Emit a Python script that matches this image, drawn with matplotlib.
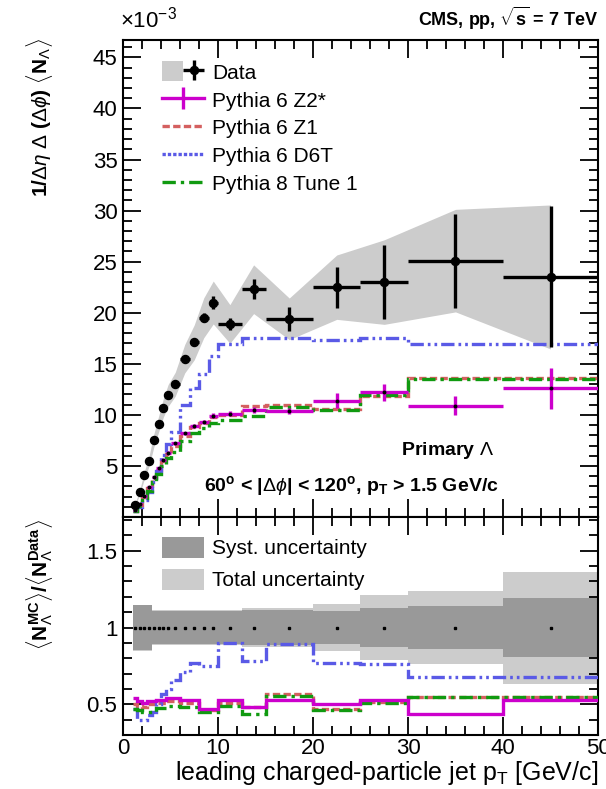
import numpy as np
import matplotlib
matplotlib.use('Agg')
import matplotlib.pyplot as plt
from matplotlib.patches import Patch
from matplotlib.lines import Line2D
from matplotlib.legend_handler import HandlerTuple
from matplotlib.ticker import MultipleLocator, FuncFormatter

FONT = ['Liberation Sans Narrow', 'Liberation Sans', 'DejaVu Sans']
plt.rcParams['font.family'] = FONT
plt.rcParams['mathtext.fontset'] = 'custom'
plt.rcParams['mathtext.rm'] = 'Liberation Sans'
plt.rcParams['mathtext.it'] = 'Liberation Sans:italic'
plt.rcParams['mathtext.bf'] = 'Liberation Sans:bold'

# ---------------- data ----------------
bin_edges = [1, 1.5, 2, 2.5, 3, 3.5, 4, 4.5, 5, 6, 7, 8, 9, 10, 12.5, 15, 20, 25, 30, 40, 50]
data = [1.15, 2.4, 4.1, 5.5, 7.5, 9.1, 10.7, 11.9, 13.0, 15.5, 17.1, 19.5, 21.0,
        18.9, 22.3, 19.4, 22.5, 23.0, 25.1, 23.5]
data_stat = [0.1, 0.1, 0.1, 0.15, 0.15, 0.2, 0.2, 0.25, 0.25, 0.3, 0.35, 0.45, 0.6,
             0.6, 1.0, 1.2, 2.0, 3.6, 4.6, 6.9]
data_band_rel = [0.09, 0.09, 0.09, 0.09, 0.085, 0.085, 0.085, 0.09, 0.09, 0.09, 0.1, 0.1, 0.1,
                 0.1, 0.107, 0.105, 0.14, 0.18, 0.2, 0.3]

z2 = [0.66, 1.25, 2.1, 2.9, 3.95, 4.75, 5.6, 6.3, 7.2, 8.2, 8.95, 9.3, 9.9,
      10.1, 10.5, 10.4, 11.4, 12.2, 10.9, 12.6]
z2_err = [0.05, 0.05, 0.07, 0.08, 0.1, 0.1, 0.12, 0.12, 0.15, 0.15, 0.2, 0.2, 0.25,
          0.25, 0.3, 0.3, 0.7, 0.8, 0.9, 2.0]
z1 = [0.6, 1.2, 2.0, 2.8, 3.8, 4.6, 5.45, 6.15, 7.0, 7.9, 8.8, 9.2, 9.8,
      10.0, 10.9, 10.95, 10.55, 11.85, 13.65, 13.65]
p8 = [0.55, 1.1, 1.85, 2.5, 3.4, 4.25, 5.0, 5.75, 6.4, 7.45, 8.2, 8.75, 9.25,
      9.45, 9.85, 10.75, 10.45, 11.95, 13.5, 13.5]
d6t = [0.55, 0.98, 1.64, 2.4, 3.45, 4.55, 6.1, 7.1, 8.3, 11.0, 12.6, 14.0, 15.8,
       16.9, 17.55, 17.55, 17.35, 17.5, 16.9, 16.9]

# ratio panel (MC / data)
r_z2 = [0.54, 0.52, 0.51, 0.52, 0.52, 0.53, 0.53, 0.54, 0.54, 0.525, 0.525, 0.47, 0.47,
        0.525, 0.48, 0.53, 0.505, 0.525, 0.435, 0.53]
r_z1 = [0.50, 0.49, 0.48, 0.50, 0.50, 0.51, 0.51, 0.52, 0.52, 0.51, 0.51, 0.46, 0.46,
        0.51, 0.48, 0.565, 0.47, 0.515, 0.545, 0.545]
r_p8 = [0.47, 0.46, 0.45, 0.45, 0.45, 0.475, 0.475, 0.49, 0.49, 0.48, 0.48, 0.45, 0.45,
        0.49, 0.44, 0.555, 0.465, 0.51, 0.545, 0.545]
r_d6t = [0.47, 0.40, 0.40, 0.43, 0.45, 0.50, 0.57, 0.60, 0.66, 0.71, 0.77, 0.75, 0.75,
         0.90, 0.78, 0.895, 0.77, 0.76, 0.675, 0.675]
syst_rel = [0.145, 0.145, 0.145, 0.145, 0.11, 0.11, 0.11, 0.11, 0.11, 0.11, 0.11, 0.11, 0.11,
            0.11, 0.115, 0.115, 0.11, 0.13, 0.14, 0.195]
tot_rel = [0.15, 0.15, 0.15, 0.15, 0.115, 0.115, 0.115, 0.115, 0.115, 0.115, 0.115, 0.115, 0.115,
           0.115, 0.125, 0.125, 0.155, 0.21, 0.235, 0.365]

# ---------------- styles ----------------
C_Z2 = '#cc00cc'
C_Z1 = '#d46060'
C_D6T = '#5a5ae6'
C_P8 = '#109a10'
LS_Z1 = (0, (2.2, 1.0))
LS_D6T = (0, (4, 1.2, 0.8, 1.2, 0.8, 1.2))
LS_P8 = (0, (4, 1.5, 1, 1.5))
LW = 2.4

edges = np.array(bin_edges)
centers = 0.5 * (edges[1:] + edges[:-1])
halfw = 0.5 * (edges[1:] - edges[:-1])
data_a = np.array(data)

W, H = 606, 789
fig = plt.figure(figsize=(W / 100, H / 100), dpi=100)

def fx(px):
    return px / W

def fy(py):
    return 1 - py / H

L, R = 123, 598
T1, B1, B2 = 40, 517, 735
ax1 = fig.add_axes([fx(L), fy(B1), fx(R) - fx(L), fy(T1) - fy(B1)])
ax2 = fig.add_axes([fx(L), fy(B2), fx(R) - fx(L), fy(B1) - fy(B2)])

# ---------------- top panel ----------------
rel = np.array(data_band_rel)
ax1.fill_between(centers, data_a * (1 - rel), data_a * (1 + rel), color='#cccccc', lw=0, zorder=1)
band_patch = Patch(facecolor='#cccccc', edgecolor='none')

ax1.stairs(z1, edges, baseline=None, color=C_Z1, lw=LW, ls=LS_Z1, zorder=3)
ax1.stairs(d6t, edges, baseline=None, color=C_D6T, lw=LW, ls=LS_D6T, zorder=3)
ax1.stairs(p8, edges, baseline=None, color=C_P8, lw=LW, ls=LS_P8, zorder=3)
eb_z2 = ax1.errorbar(centers, z2, xerr=halfw, yerr=z2_err, fmt='none', ecolor=C_Z2,
                     elinewidth=LW, capsize=0, zorder=4)
ax1.plot(centers, z2, 'o', color='k', ms=1.8, zorder=5)
eb_data = ax1.errorbar(centers, data, xerr=halfw, yerr=data_stat, fmt='o', color='k',
                       ms=5.8, elinewidth=2.4, capsize=0, zorder=6)

ax1.set_xlim(0, 50)
ax1.set_ylim(0, 46.7)
ax1.xaxis.set_major_locator(MultipleLocator(10))
ax1.xaxis.set_minor_locator(MultipleLocator(2))
ax1.yaxis.set_major_locator(MultipleLocator(5))
ax1.yaxis.set_minor_locator(MultipleLocator(1))
ax1.tick_params(labelbottom=False)
ax1.yaxis.set_major_formatter(FuncFormatter(lambda v, p: '' if v == 0 else '%g' % v))

h_data = (band_patch, eb_data)
h_z2 = Line2D([], [], color=C_Z2, lw=LW, marker='|', ms=16, mew=LW)
h_z1 = Line2D([], [], color=C_Z1, lw=LW, ls=LS_Z1)
h_d6t = Line2D([], [], color=C_D6T, lw=LW, ls=(0, (1, 0.6)))
h_p8 = Line2D([], [], color=C_P8, lw=LW, ls=LS_P8)
leg1 = ax1.legend([h_data, h_z2, h_z1, h_d6t, h_p8],
                  ['Data', 'Pythia 6 Z2*', 'Pythia 6 Z1', 'Pythia 6 D6T', 'Pythia 8 Tune 1'],
                  handler_map={tuple: HandlerTuple(ndivide=None, pad=0)},
                  loc='upper left', bbox_to_anchor=(0.083, 0.955), frameon=False,
                  fontsize=15, handlelength=2.0, handleheight=1.1, handletextpad=0.4,
                  labelspacing=0.33, borderpad=0, borderaxespad=0)

ax1.text(0.684, 0.14, r'Primary $\Lambda$', transform=ax1.transAxes, fontsize=14,
         ha='center', va='center', fontweight='bold')
ax1.text(0.48, 0.066, r'60$^{\mathregular{o}}$ < |$\Delta\phi$| < 120$^{\mathregular{o}}$, p$_{\mathregular{T}}$ > 1.5 GeV/c',
         transform=ax1.transAxes, fontsize=14, ha='center', va='center', fontweight='bold')

fig.text(fx(R), fy(18), r'CMS, pp, $\sqrt{\mathregular{s}}$ = 7 TeV', fontsize=13,
         fontweight='bold', ha='right', va='center')
fig.text(fx(L - 3), fy(20), r'$\times$10$^{\mathregular{-3}}$', fontsize=16, ha='left', va='center')

# axis titles (ROOT style: aligned to the axis end)
fig.text(fx(40), fy(T1 - 2),
         r'1/$\Delta\eta$ $\Delta$ ($\Delta\phi$) $\langle$N$_{\Lambda}\rangle$',
         rotation=90, fontsize=15, fontweight='bold', ha='center', va='top')
fig.text(fx(40), fy(B1 + 2),
         r'$\langle$N$_{\Lambda}^{\mathregular{MC}}\rangle$/$\langle$N$_{\Lambda}^{\mathregular{Data}}\rangle$',
         rotation=90, fontsize=15, fontweight='bold', ha='center', va='top')
fig.text(fx(R), fy(787), r'leading charged-particle jet p$_{\mathregular{T}}$ [GeV/c]',
         fontsize=18, ha='right', va='bottom')

# ---------------- ratio panel ----------------
ones = np.ones(len(centers))
tot = np.array(tot_rel)
syst = np.array(syst_rel)
ax2.stairs(1 + tot, edges, baseline=1 - tot, fill=True, color='#cccccc', lw=0, zorder=1)
ax2.stairs(1 + syst, edges, baseline=1 - syst, fill=True, color='#999999', lw=0, zorder=2)
ax2.plot(centers, ones, 's', color='k', ms=1.6, zorder=6)

ax2.stairs(r_z1, edges, baseline=None, color=C_Z1, lw=LW, ls=LS_Z1, zorder=3)
ax2.stairs(r_d6t, edges, baseline=None, color=C_D6T, lw=LW, ls=LS_D6T, zorder=3)
ax2.stairs(r_p8, edges, baseline=None, color=C_P8, lw=LW, ls=LS_P8, zorder=3)
ax2.stairs(r_z2, edges, baseline=None, color=C_Z2, lw=LW, zorder=4)

ax2.set_xlim(0, 50)
ax2.set_ylim(0.3, 1.72)
ax2.xaxis.set_major_locator(MultipleLocator(10))
ax2.xaxis.set_minor_locator(MultipleLocator(2))
ax2.yaxis.set_major_locator(MultipleLocator(0.5))
ax2.yaxis.set_minor_locator(MultipleLocator(0.1))
ax2.yaxis.set_major_formatter(FuncFormatter(lambda v, p: '%g' % v))

leg2 = ax2.legend([Patch(facecolor='#999999'), Patch(facecolor='#cccccc')],
                  ['Syst. uncertainty', 'Total uncertainty'],
                  loc='upper left', bbox_to_anchor=(0.083, 0.91), frameon=False,
                  fontsize=15, handlelength=2.0, handleheight=1.2, handletextpad=0.4,
                  labelspacing=0.5, borderpad=0, borderaxespad=0)

for ax in (ax1, ax2):
    ax.tick_params(which='both', direction='in', top=True, right=True, labelsize=16, width=1.3)
    ax.tick_params(which='major', length=13, pad=4)
    ax.tick_params(which='minor', length=6.5)
    for s in ax.spines.values():
        s.set_linewidth(1.5)
ax2.tick_params(axis='x', which='major', pad=2)

fig.savefig('out.png', dpi=100)
